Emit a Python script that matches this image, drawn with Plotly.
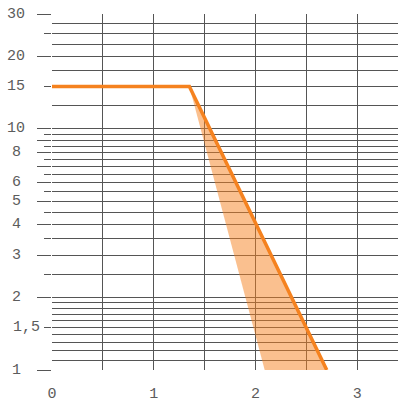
import math
import plotly.graph_objects as go

# ---- data ----
line_x = [0, 1.35, 2.70]
line_y = [15, 15, 1]
band_x = [1.35, 2.70, 2.09, 1.35]
band_y = [15, 1, 1, 15]

y_label_vals = [1, 1.5, 2, 3, 4, 5, 6, 8, 10, 15, 20, 30]
y_label_text = ["1", "1,5", "2", "3", "4", "5", "6", "8", "10", "15", "20", "30"]
y_long_ticks = [1, 2, 3, 4, 5, 6, 7, 8, 9, 10, 20, 30]
y_short_ticks = [1.5, 2.5, 3.5, 4.5, 5.5, 6.5, 7.5, 8.5, 9.5, 15, 25]
y_grid_only = [1.1, 1.2, 1.3, 1.4, 1.6, 1.7, 1.8, 1.9, 12.5, 17.5, 22.5, 27.5]
x_label_vals = [0, 1, 2, 3]
x_label_text = ["0", "1", "2", "3"]
x_grid_minor = [0.5, 1.5, 2.5]

GRID = "#555555"
ORANGE = "#f5821f"
FONT = dict(family="Liberation Mono", size=15, color="#5c5c5c")

W, H = 399, 403
ML, MR, MT, MB = 52, 1, 14, 33
PW = W - ML - MR

fig = go.Figure()
fig.add_trace(go.Scatter(x=band_x, y=band_y, mode="lines", fill="toself",
                         fillcolor="rgba(245,130,31,0.5)", line=dict(width=0),
                         hoverinfo="skip", showlegend=False))
fig.add_trace(go.Scatter(x=line_x, y=line_y, mode="lines",
                         line=dict(color=ORANGE, width=3.5), showlegend=False))
# carrier for the tick-only overlay axis
fig.add_trace(go.Scatter(x=[None], y=[None], yaxis="y2", mode="lines",
                         showlegend=False, hoverinfo="skip"))

yrange = [0, math.log10(30)]
fig.update_layout(
    width=W, height=H,
    margin=dict(l=ML, r=MR, t=MT, b=MB, autoexpand=False),
    paper_bgcolor="white", plot_bgcolor="white",
    font=FONT,
    xaxis=dict(range=[0, 3.4], tickvals=x_label_vals, ticktext=x_label_text,
               showgrid=True, gridcolor=GRID, gridwidth=1, zeroline=False,
               ticks="", ticklabelstandoff=12, tickfont=FONT,
               minor=dict(tickvals=x_grid_minor, showgrid=True, gridcolor=GRID,
                          gridwidth=1, ticks="")),
    yaxis=dict(type="log", range=yrange, tickvals=y_long_ticks + y_short_ticks,
               showticklabels=False, ticks="", showgrid=True, gridcolor=GRID,
               gridwidth=1, zeroline=False,
               minor=dict(tickvals=y_grid_only, showgrid=True, gridcolor=GRID,
                          gridwidth=1, ticks="")),
    yaxis2=dict(type="log", range=yrange, overlaying="y", side="left",
                anchor="x", tickvals=y_long_ticks, showticklabels=False,
                ticks="outside", ticklen=14, tickcolor=GRID, tickwidth=1,
                showgrid=False, zeroline=False,
                minor=dict(tickvals=y_short_ticks, ticks="outside", ticklen=7,
                           tickcolor=GRID, tickwidth=1, showgrid=False)),
)

for v, t in zip(y_label_vals, y_label_text):
    wide = "," in t
    px = 11 if wide else 16
    fig.add_annotation(xref="paper", yref="y", x=(px - ML) / PW, y=math.log10(v),
                       text=t, showarrow=False, font=FONT,
                       xanchor="left" if wide else "center", yanchor="middle")

fig.write_html("out.html", config={"displayModeBar": False},
               post_script="document.body.style.margin='0';document.body.style.overflow='hidden';")
